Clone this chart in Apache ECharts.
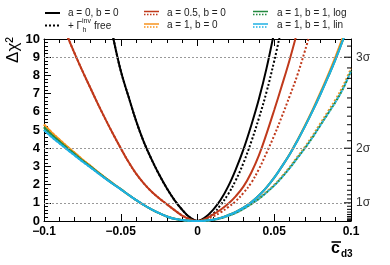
<!DOCTYPE html>
<html>
<head>
<meta charset="utf-8">
<script src="https://cdn.jsdelivr.net/npm/echarts@6/dist/echarts.min.js"></script>
<style>
html,body{margin:0;padding:0;background:#fff;}
#chart{width:390px;height:265px;}
</style>
</head>
<body>
<div id="chart"></div>
<script>
// x grid (c̄_d3)
const cGrid = [-0.1,-0.095,-0.09,-0.085,-0.08,-0.075,-0.07,-0.065,-0.06,-0.055,-0.05,-0.045,-0.04,-0.035,-0.03,-0.025,-0.02,-0.015,-0.01,-0.005,
  0,0.005,0.01,0.015,0.02,0.025,0.03,0.035,0.04,0.045,0.05,0.055,0.06,0.065,0.07,0.075,0.08,0.085,0.09,0.095,0.1];

// a = 0, b = 0
const blackSolid = [null,null,null,null,null,null,null,null,12.2,10.1,8.25,6.85,5.5,4.35,3.4,2.55,1.8,1.15,0.62,0.2,
  0,0.2,0.6,1.15,1.9,2.85,3.95,5.25,6.7,8.4,10.4,12.6,null,null,null,null,null,null,null,null,null];
// + Gamma_h^inv free
const blackDotted = [null,null,null,null,null,null,null,null,12.2,10.1,8.25,6.85,5.5,4.35,3.4,2.55,1.8,1.15,0.62,0.2,
  0,0.12,0.38,0.88,1.48,2.25,3.2,4.35,5.65,7.1,8.8,10.7,null,null,null,null,null,null,null,null,null];
// a = 0.5, b = 0
const redSolid = [null,null,11.3,10.2,9.2,8.25,7.35,6.45,5.6,4.78,4.0,3.25,2.6,2.07,1.62,1.25,0.92,0.6,0.3,0.1,
  0,0.12,0.35,0.62,0.95,1.37,1.9,2.65,3.6,4.8,6.1,7.45,8.85,10.4,12.0,null,null,null,null,null,null];
const redDotted = [null,null,11.3,10.2,9.2,8.25,7.35,6.45,5.6,4.78,4.0,3.25,2.6,2.07,1.62,1.25,0.92,0.6,0.3,0.1,
  0,0.08,0.25,0.47,0.76,1.1,1.55,2.1,2.85,3.75,4.7,5.75,6.85,8.0,9.35,10.8,null,null,null,null,null];
// a = 1, b = 0
const orangeSolid = [5.3,4.87,4.48,4.1,3.75,3.38,3.05,2.7,2.38,2.06,1.76,1.44,1.15,0.88,0.64,0.43,0.25,0.12,0.05,0.01,
  0,0.02,0.07,0.17,0.32,0.5,0.73,1.03,1.4,1.85,2.38,3.0,3.67,4.43,5.25,6.12,7.05,8.02,9.05,10.18,11.4];
const orangeDotted = [5.3,4.87,4.48,4.1,3.75,3.38,3.05,2.7,2.38,2.06,1.76,1.44,1.15,0.88,0.64,0.43,0.25,0.12,0.05,0.01,
  0,0.02,0.06,0.15,0.28,0.45,0.67,0.94,1.24,1.6,1.99,2.45,2.96,3.52,4.08,4.7,5.36,6.02,6.69,7.46,8.38];
// a = 1, b = 1, log
const greenSolid = [5.15,4.74,4.37,4.01,3.67,3.32,3.0,2.67,2.35,2.04,1.75,1.44,1.15,0.88,0.64,0.43,0.25,0.12,0.05,0.01,
  0,0.02,0.07,0.17,0.32,0.5,0.73,1.03,1.4,1.85,2.38,3.0,3.65,4.4,5.2,6.05,6.95,7.9,8.9,10.0,11.2];
const greenDotted = [5.15,4.74,4.37,4.01,3.67,3.32,3.0,2.67,2.35,2.04,1.75,1.44,1.15,0.88,0.64,0.43,0.25,0.12,0.05,0.01,
  0,0.02,0.06,0.15,0.28,0.45,0.67,0.93,1.22,1.57,1.95,2.4,2.9,3.45,4.0,4.6,5.25,5.9,6.55,7.3,8.25];
// a = 1, b = 1, lin
const cyanSolid = [5.0,4.62,4.27,3.93,3.6,3.27,2.96,2.64,2.33,2.03,1.74,1.44,1.15,0.88,0.64,0.43,0.25,0.12,0.05,0.01,
  0,0.02,0.07,0.17,0.32,0.5,0.73,1.03,1.4,1.85,2.38,3.0,3.65,4.4,5.2,6.05,6.95,7.9,8.9,10.0,11.2];
const cyanDotted = [5.0,4.62,4.27,3.93,3.6,3.27,2.96,2.64,2.33,2.03,1.74,1.44,1.15,0.88,0.64,0.43,0.25,0.12,0.05,0.01,
  0,0.02,0.06,0.15,0.28,0.45,0.67,0.93,1.22,1.57,1.95,2.4,2.9,3.45,4.0,4.6,5.25,5.9,6.55,7.3,8.25];

// axis / reference lines
const refLevels = [1, 4, 9];
const sigmaLabels = {1: '1σ', 4: '2σ', 9: '3σ'};
const sigmaMajor = [1, 2, 3];
const sigmaMinor = [0.1,0.2,0.3,0.4,0.5,0.6,0.7,0.8,0.9,1.1,1.2,1.3,1.4,1.5,1.6,1.7,1.8,1.9,2.1,2.2,2.3,2.4,2.5,2.6,2.7,2.8,2.9,3.1];

const FONT = 'Liberation Sans, Arial, Helvetica, sans-serif';
const C_BLACK = '#000000', C_RED = '#c0391b', C_ORANGE = '#f7931e', C_GREEN = '#23893f', C_CYAN = '#1fb1e3';

function pairs(vals){ return cGrid.map((c,i)=>[c, vals[i]]); }
function lineSeries(name, vals, color, dotted){
  return {
    name, type:'line', data: pairs(vals), showSymbol:false, symbol:'none',
    smooth:0.4,
    clip:true, silent:true,
    lineStyle:{color, width:2, type: dotted ? [2,2] : 'solid', cap:'butt'}
  };
}

const sigmaTickData = sigmaMajor.map(s=>[0.1, s*s, 1]).concat(sigmaMinor.map(s=>[0.1, s*s, 0]));

const chart = echarts.init(document.getElementById('chart'), null, {renderer:'canvas'});
const axisLineStyle = {color:'#000', width:1};
const option = {
  animation:false,
  grid:{left:44, right:39, top:39, bottom:44, containLabel:false},
  xAxis:[
    {type:'value', min:-0.1, max:0.1, interval:0.05, position:'bottom',
     axisLine:{show:true, onZero:false, lineStyle:axisLineStyle},
     axisTick:{show:true, inside:true, length:7, lineStyle:{color:'#000'}},
     minorTick:{show:true, splitNumber:5, length:4, lineStyle:{color:'#000'}},
     splitLine:{show:false},
     axisLabel:{show:true, margin:5, fontSize:12, fontWeight:'bold', color:'#000', fontFamily:FONT,
       formatter:v=>{const r=Math.round(v*100)/100; if(r===0) return '0'; return (r<0?'\u2212':'')+String(Math.abs(r));}}},
    {type:'value', min:-0.1, max:0.1, interval:0.05, position:'top',
     axisLine:{show:true, onZero:false, lineStyle:axisLineStyle},
     axisTick:{show:true, inside:true, length:7, lineStyle:{color:'#000'}},
     minorTick:{show:true, splitNumber:5, length:4, lineStyle:{color:'#000'}},
     splitLine:{show:false}, axisLabel:{show:false}}
  ],
  yAxis:[
    {type:'value', min:0, max:10, interval:1, position:'left',
     axisLine:{show:true, onZero:false, lineStyle:axisLineStyle},
     axisTick:{show:true, inside:true, length:7, lineStyle:{color:'#000'}},
     minorTick:{show:true, splitNumber:5, length:4, lineStyle:{color:'#000'}},
     splitLine:{show:false},
     axisLabel:{margin:4, fontSize:13, fontWeight:'bold', color:'#000', fontFamily:FONT}},
    {type:'value', min:0, max:10, interval:1, position:'right',
     axisLine:{show:true, onZero:false, lineStyle:axisLineStyle},
     axisTick:{show:false}, splitLine:{show:false},
     axisLabel:{margin:5, fontSize:12, color:'#333', fontFamily:FONT,
       formatter:v=>sigmaLabels[Math.round(v)] && Math.abs(v-Math.round(v))<1e-6 ? sigmaLabels[Math.round(v)] : ''}}
  ],
  series:[
    {name:'ref', type:'line', data:[], silent:true, z:1,
     markLine:{silent:true, symbol:'none', label:{show:false},
       lineStyle:{color:'#999999', width:1, type:[2,2]},
       data: refLevels.map(v=>({yAxis:v}))}},
    lineSeries('a = 0, b = 0', blackSolid, C_BLACK, false),
    lineSeries('+ free', blackDotted, C_BLACK, true),
    lineSeries('a = 0.5, b = 0', redSolid, C_RED, false),
    lineSeries('a = 0.5, b = 0 d', redDotted, C_RED, true),
    lineSeries('a = 1, b = 0', orangeSolid, C_ORANGE, false),
    lineSeries('a = 1, b = 0 d', orangeDotted, C_ORANGE, true),
    lineSeries('a = 1, b = 1, log', greenSolid, C_GREEN, false),
    lineSeries('a = 1, b = 1, log d', greenDotted, C_GREEN, true),
    lineSeries('a = 1, b = 1, lin', cyanSolid, C_CYAN, false),
    lineSeries('a = 1, b = 1, lin d', cyanDotted, C_CYAN, true),
    {name:'sigmaTicks', type:'custom', data:sigmaTickData, silent:true, z:5,
     renderItem:(params, api)=>{
       const p = api.coord([api.value(0), api.value(1)]);
       const len = api.value(2) ? 7 : 4;
       return {type:'line', shape:{x1:p[0], y1:p[1], x2:p[0]-len, y2:p[1]}, style:{stroke:'#000', lineWidth:1}};
     }}
  ],
  graphic:[
    // legend
    {type:'line', shape:{x1:45,y1:13,x2:60,y2:13}, style:{stroke:C_BLACK, lineWidth:2}},
    {type:'text', x:68, y:13, style:{text:'a = 0, b = 0', font:'10px '+FONT, fill:'#222', textVerticalAlign:'middle'}},
    {type:'line', shape:{x1:144,y1:11.5,x2:159,y2:11.5}, style:{stroke:C_RED, lineWidth:1.5}},
    {type:'line', shape:{x1:144,y1:14.5,x2:159,y2:14.5}, style:{stroke:C_RED, lineWidth:1.5, lineDash:[1.5,1.5]}},
    {type:'text', x:167, y:13, style:{text:'a = 0.5, b = 0', font:'10px '+FONT, fill:'#222', textVerticalAlign:'middle'}},
    {type:'line', shape:{x1:253,y1:11.5,x2:268,y2:11.5}, style:{stroke:C_GREEN, lineWidth:1.5}},
    {type:'line', shape:{x1:253,y1:14.5,x2:268,y2:14.5}, style:{stroke:C_GREEN, lineWidth:1.5, lineDash:[1.5,1.5]}},
    {type:'text', x:277, y:13, style:{text:'a = 1, b = 1, log', font:'10px '+FONT, fill:'#222', textVerticalAlign:'middle'}},

    {type:'line', shape:{x1:45,y1:25.5,x2:60,y2:25.5}, style:{stroke:C_BLACK, lineWidth:2, lineDash:[2,2]}},
    {type:'text', x:68, y:26, style:{text:'+ Γ', font:'10px '+FONT, fill:'#222', textVerticalAlign:'middle'}},
    {type:'text', x:82, y:21, style:{text:'inv', font:'7px '+FONT, fill:'#222', textVerticalAlign:'middle'}},
    {type:'text', x:82.5, y:30, style:{text:'h', font:'7px '+FONT, fill:'#222', textVerticalAlign:'middle'}},
    {type:'text', x:94, y:26, style:{text:'free', font:'10px '+FONT, fill:'#222', textVerticalAlign:'middle'}},
    {type:'line', shape:{x1:144,y1:24,x2:159,y2:24}, style:{stroke:C_ORANGE, lineWidth:1.5}},
    {type:'line', shape:{x1:144,y1:27,x2:159,y2:27}, style:{stroke:C_ORANGE, lineWidth:1.5, lineDash:[1.5,1.5]}},
    {type:'text', x:167, y:25.5, style:{text:'a = 1, b = 0', font:'10px '+FONT, fill:'#222', textVerticalAlign:'middle'}},
    {type:'line', shape:{x1:253,y1:24,x2:268,y2:24}, style:{stroke:C_CYAN, lineWidth:1.5}},
    {type:'line', shape:{x1:253,y1:27,x2:268,y2:27}, style:{stroke:C_CYAN, lineWidth:1.5, lineDash:[1.5,1.5]}},
    {type:'text', x:277, y:25.5, style:{text:'a = 1, b = 1, lin', font:'10px '+FONT, fill:'#222', textVerticalAlign:'middle'}},

    // y-axis title
    {type:'text', x:13, y:50, rotation:Math.PI/2,
     style:{text:'Δχ²', font:'17px '+FONT, fill:'#000', textAlign:'center', textVerticalAlign:'middle'}},
    // x-axis title
    {type:'text', x:331, y:249, style:{text:'c', font:'bold 16px '+FONT, fill:'#000', textVerticalAlign:'middle'}},
    {type:'line', shape:{x1:331.5,y1:242,x2:341,y2:242}, style:{stroke:'#000', lineWidth:1.6}},
    {type:'text', x:341, y:254, style:{text:'d3', font:'bold 10px '+FONT, fill:'#000', textVerticalAlign:'middle'}}
  ]
};
chart.setOption(option);
</script>
</body>
</html>
